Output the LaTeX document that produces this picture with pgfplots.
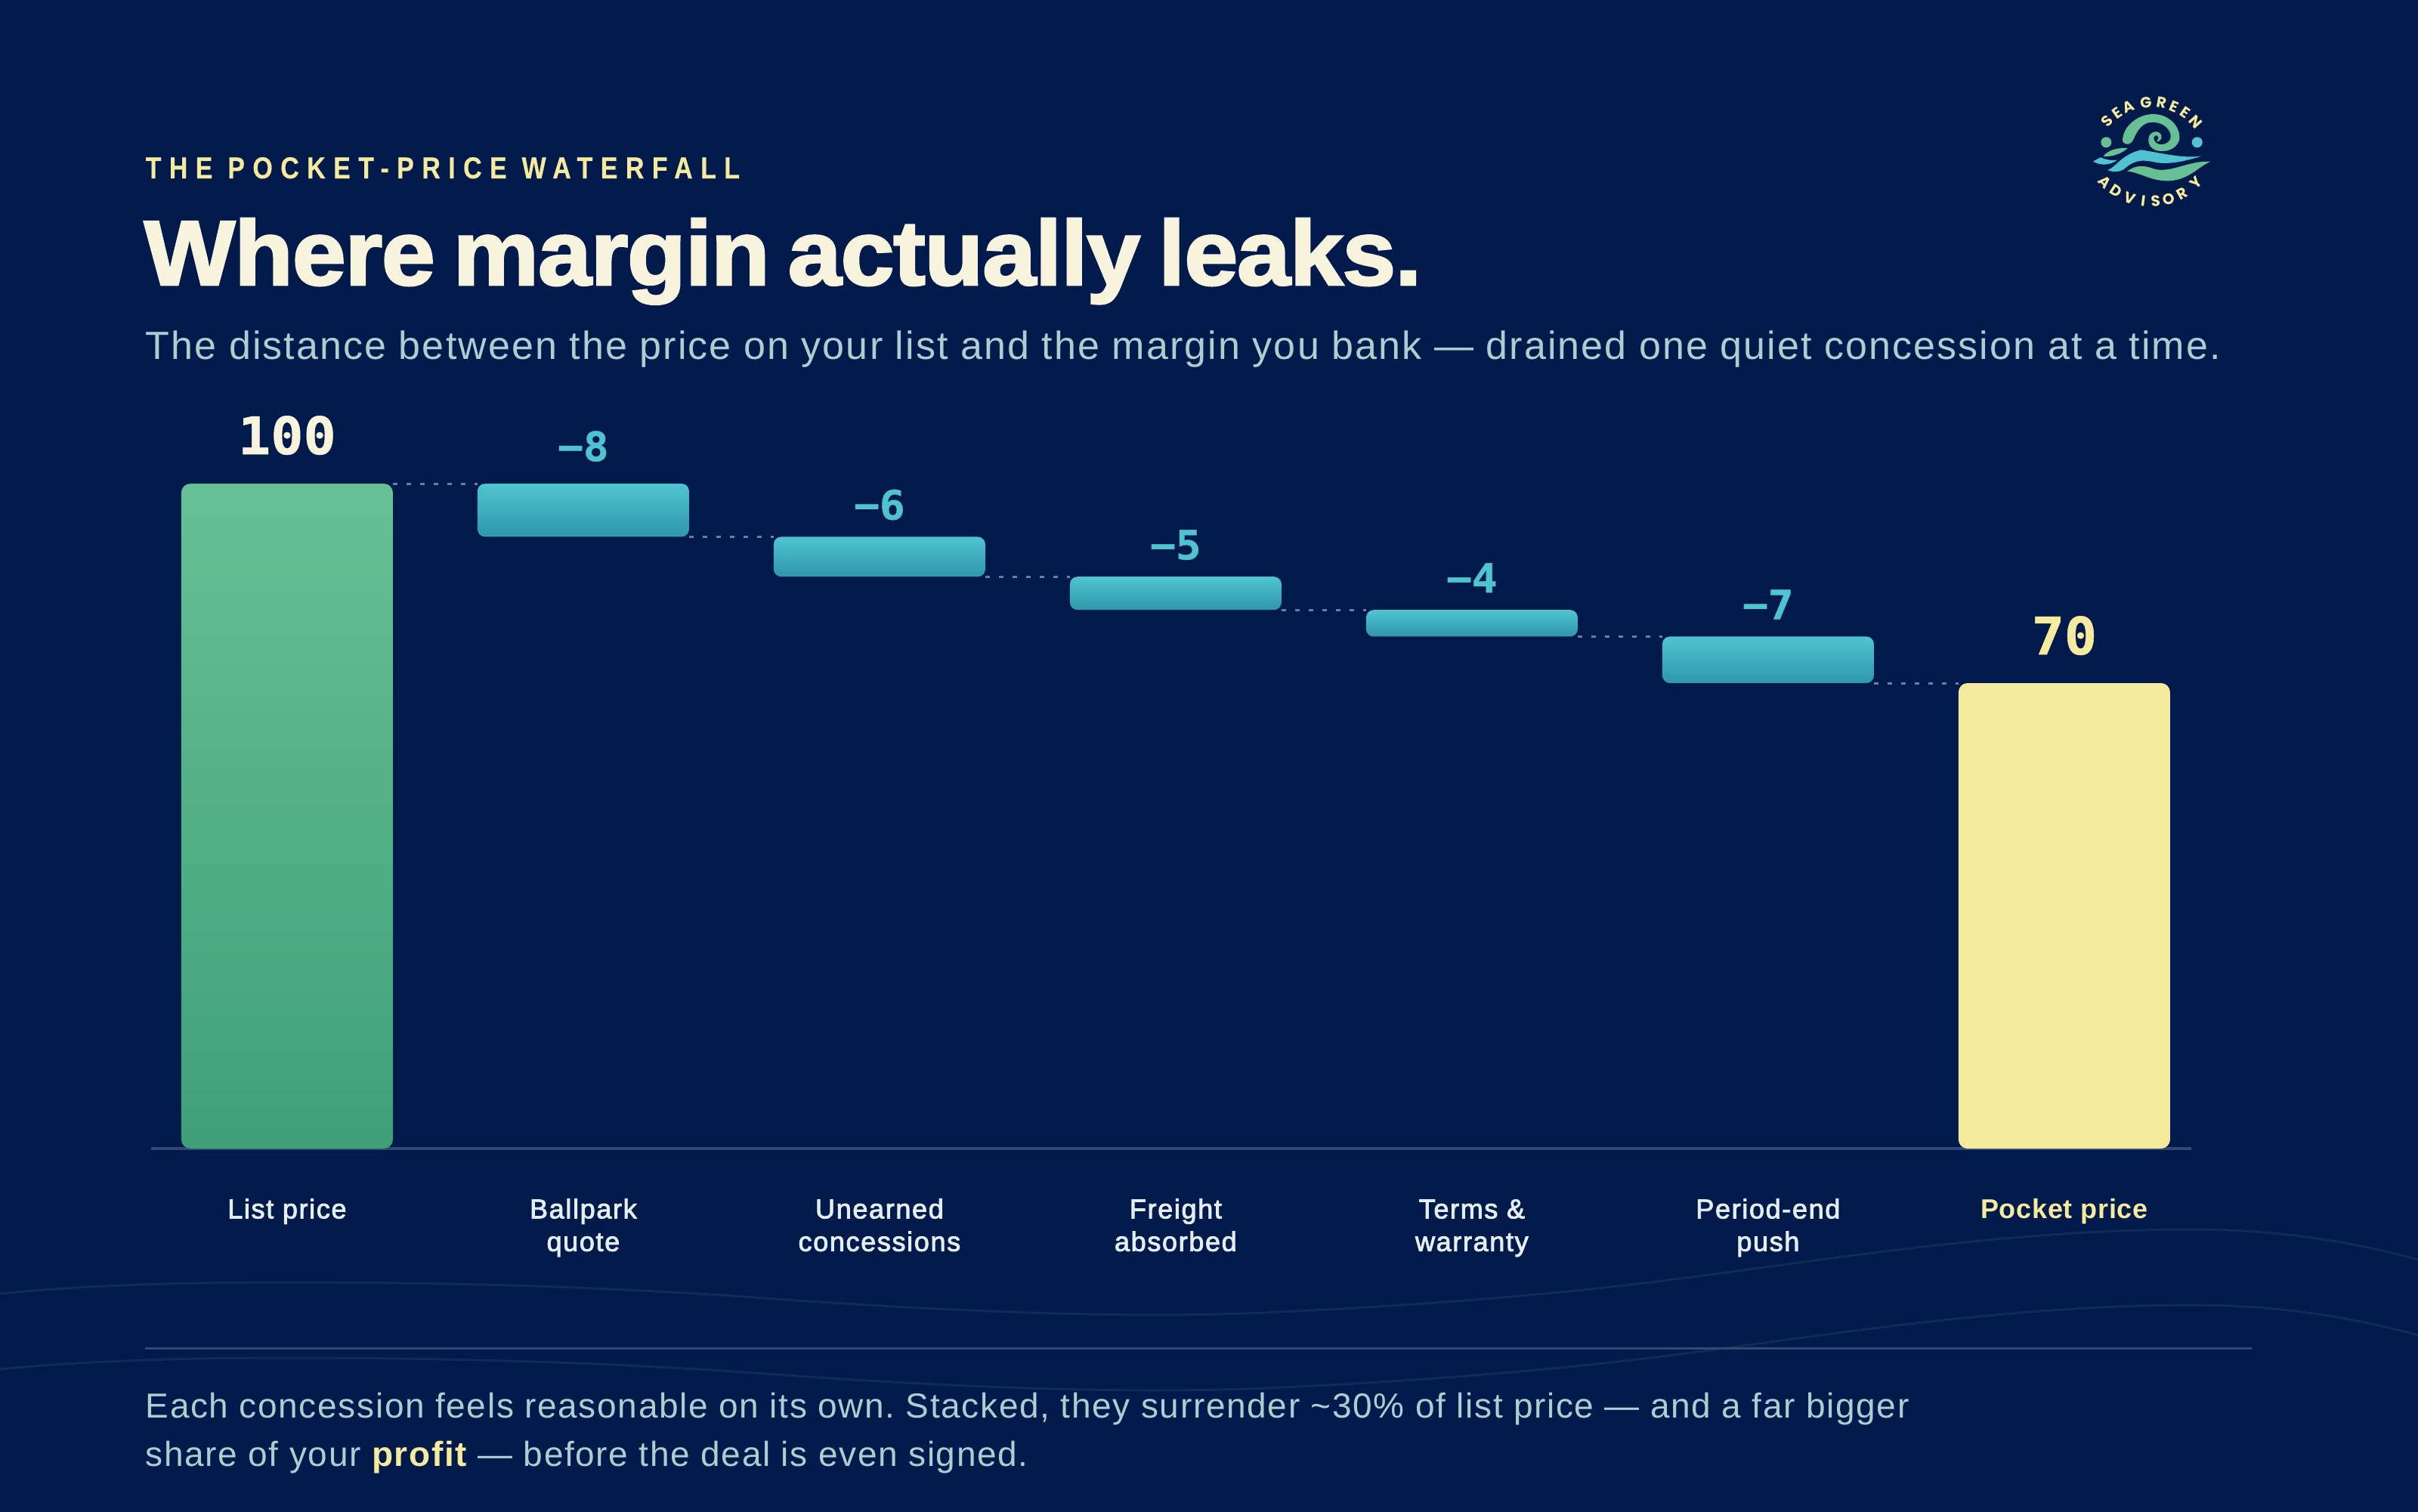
\documentclass[border=0pt]{standalone}
\usepackage{fontspec}
\usepackage{pgfplots}
\pgfplotsset{compat=1.18}
\usetikzlibrary{calc}
\setmainfont{Liberation Sans}
\newfontfamily\bodyf[LetterSpace=4.05]{Liberation Sans}
\newfontfamily\footf[LetterSpace=3.6]{Liberation Sans}
\newfontfamily\titlef[BoldFeatures={FakeBold=2.2,FakeStretch=1.05,LetterSpace=-1.1,WordSpace=0.7}]{Liberation Sans}
\newfontfamily\eyebrowf[BoldFeatures={FakeBold=0.3,FakeStretch=0.85,LetterSpace=26}]{Liberation Sans}
\newfontfamily\tickf[FakeBold=2.5,LetterSpace=4.6,BoldFeatures={FakeBold=0,LetterSpace=2}]{Liberation Sans}
\newfontfamily\valf[BoldFeatures={FakeStretch=1.05,FakeBold=0.8}]{DejaVu Sans Mono}
\newfontfamily\logof{Poppins}
\frenchspacing
\definecolor{bg}{HTML}{001A4B}
\definecolor{cream}{HTML}{F8F3DC}
\definecolor{sand}{HTML}{F5EA9D}
\definecolor{mist}{HTML}{AFCDD0}
\definecolor{tickc}{HTML}{E4EEF0}
\definecolor{rule}{HTML}{2F4B74}
\definecolor{wave}{HTML}{0C2D54}
\definecolor{dotc}{HTML}{6A7F9F}
\definecolor{greenT}{HTML}{66C094}
\definecolor{greenB}{HTML}{3FA078}
\definecolor{blueT}{HTML}{4FC4D0}
\definecolor{blueB}{HTML}{2F97AA}
% 1 reference pixel = 0.3pt
\pgfplotsset{wf/.style={
  scale only axis, width=810pt, height=264pt,
  at={(60pt,-456pt)}, anchor=south west,
  xmin=-0.459, xmax=6.429, ymin=0, ymax=100,
  clip=false, ybar, bar width=84pt, bar shift=0pt,
  axis y line=none,
}}
% one floating bar: x, level it falls to, size of the drop
\newcommand{\dropbar}[3]{%
\begin{axis}[wf, stack plots=y, axis x line=none]
\addplot[forget plot,draw=none,fill=none] coordinates {(#1,#2)};
\addplot[forget plot,draw=none,top color=blueT,bottom color=blueB,rounded corners=3pt] coordinates {(#1,#3)};
\end{axis}}
\newcommand{\conn}[2]{\addplot[forget plot,dotc,line width=0.9pt,dash pattern=on 1.8pt off 3.6pt,sharp plot] coordinates {(#1+0.357,#2) (#1+0.643,#2)};}
\begin{document}
\begin{tikzpicture}
\useasboundingbox (0,0) rectangle (960pt,-600pt);
\fill[bg] (-2pt,2pt) rectangle (962pt,-602pt);
\begin{scope}[x=0.3pt,y=-0.3pt]
\clip (0,0) rectangle (3200,2000);
\foreach \d in {0,100}{
\draw[wave,line width=0.9pt,yshift=-\d*0.3pt] (0,1712) .. controls (120,1700) and (250,1697) .. (383,1697)
  .. controls (600,1697) and (800,1703) .. (1000,1717)
  .. controls (1200,1732) and (1450,1745) .. (1650,1738)
  .. controls (1850,1730) and (2050,1714) .. (2200,1695)
  .. controls (2400,1670) and (2650,1627) .. (2900,1627)
  .. controls (3020,1627) and (3120,1645) .. (3200,1667);
}
\draw[rule,line width=0.9pt] (192,1784) -- (2980,1784);
\node[anchor=base west,inner sep=0,text=sand] at (192,236) {\eyebrowf\bfseries\fontsize{12}{14}\selectfont THE POCKET-PRICE WATERFALL};
\node[anchor=base west,inner sep=0,text=cream] at (190,377) {\titlef\bfseries\fontsize{36.5}{40}\selectfont Where margin actually leaks.};
\node[anchor=base west,inner sep=0,text=mist] at (192,475) {\bodyf\fontsize{15.6}{18}\selectfont The distance between the price on your list and the margin you bank — drained one quiet concession at a time.};
\node[anchor=base west,inner sep=0,text=mist] at (192,1876) {\footf\fontsize{13.8}{16}\selectfont Each concession feels reasonable on its own. Stacked, they surrender \textasciitilde30\% of list price — and a far bigger};
\node[anchor=base west,inner sep=0,text=mist] at (192,1940) {\footf\fontsize{13.8}{16}\selectfont share of your \textcolor{sand}{\bfseries profit} — before the deal is even signed.};
% logo, in 3x crop coordinates
\begin{scope}[shift={(2700,90)},x=0.1pt,y=-0.1pt]
\fill[greenT] (327,285) .. controls (330,225) and (395,183) .. (447,183) .. controls (515,183) and (555,235) .. (553,278)
  .. controls (550,312) and (515,332) .. (480,330) .. controls (445,330) and (426,305) .. (430,280)
  .. controls (433,255) and (460,245) .. (475,258) .. controls (488,270) and (482,292) .. (462,292)
  .. controls (468,282) and (475,272) .. (462,268) .. controls (450,265) and (445,285) .. (460,297)
  .. controls (480,312) and (515,300) .. (518,275) .. controls (520,245) and (490,215) .. (445,215)
  .. controls (410,215) and (385,245) .. (372,280) .. controls (365,298) and (352,303) .. (342,302)
  .. controls (333,300) and (327,295) .. (327,285) -- cycle;
\fill[greenT] (262,295) circle (21);
\fill[blueT] (623,295) circle (21);
\fill[blueT] (268,405) .. controls (300,395) and (320,345) .. (400,325) .. controls (470,335) and (560,360) .. (640,350)
  .. controls (590,365) and (520,385) .. (460,375) .. controls (400,360) and (370,370) .. (340,395)
  .. controls (325,410) and (295,418) .. (268,405) -- cycle;
\fill[blueT] (210,370) .. controls (225,365) and (235,355) .. (240,355) .. controls (260,365) and (285,368) .. (305,365)
  .. controls (285,385) and (235,390) .. (210,370) -- cycle;
\fill[greenT] (250,350) .. controls (270,325) and (310,315) .. (347,318) .. controls (330,335) and (290,355) .. (250,350) -- cycle;
\fill[greenT] (345,410) .. controls (380,385) and (410,385) .. (450,400) .. controls (520,420) and (590,365) .. (675,372)
  .. controls (630,390) and (590,445) .. (510,448) .. controls (440,450) and (400,415) .. (345,410) -- cycle;
\foreach \a/\c in {137/S,125/E,112/A,95/G,80/R,67/E,55/E,42/N}{
  \node[text=sand,inner sep=0,rotate=\a-90] at ($(440,372)+({237*cos(\a)},{-237*sin(\a)})$) {\logof\bfseries\fontsize{6}{6}\selectfont \c};
}
\foreach \a/\c in {224/A,237/D,251/V,263/I,274/S,286/O,299/R,315/Y}{
  \node[text=sand,inner sep=0,rotate=\a+90] at ($(440,276)+({254*cos(\a)},{-254*sin(\a)})$) {\logof\bfseries\fontsize{6}{6}\selectfont \c};
}
\end{scope}
\end{scope}
\begin{axis}[wf,
  axis x line=bottom, axis line style={rule,line width=1.2pt,-},
  xtick={0,...,6}, major tick length=0pt,
  xticklabels={\strut List price,\strut Ballpark\\quote,\strut Unearned\\concessions,\strut Freight\\absorbed,\strut Terms \&\\warranty,\strut Period-end\\push,\strut\textcolor{sand}{\bfseries Pocket price}},
  xticklabel style={align=center,text=tickc,font=\tickf\fontsize{10.8}{13}\selectfont,inner sep=0pt,yshift=-18.4pt},
]
\addplot[forget plot,draw=none,top color=greenT,bottom color=greenB,rounded corners=3.6pt] coordinates {(0,100)};
\addplot[forget plot,draw=none,fill=sand,rounded corners=3.6pt] coordinates {(6,70)};
\conn{0}{100}
\conn{1}{92}
\conn{2}{86}
\conn{3}{81}
\conn{4}{77}
\conn{5}{70}
\node[anchor=base,text=cream,inner sep=0,yshift=11.7pt] at (axis cs:0,100) {\valf\bfseries\fontsize{20.5}{22}\selectfont 100};
\node[anchor=base,text=sand,inner sep=0,yshift=11.4pt] at (axis cs:6,70) {\valf\bfseries\fontsize{20.5}{22}\selectfont 70};
\node[anchor=base,text=blueT,inner sep=0,yshift=9pt] at (axis cs:1,100) {\valf\bfseries\fontsize{16}{18}\selectfont −8};
\node[anchor=base,text=blueT,inner sep=0,yshift=6.9pt] at (axis cs:2,92) {\valf\bfseries\fontsize{16}{18}\selectfont −6};
\node[anchor=base,text=blueT,inner sep=0,yshift=6.9pt] at (axis cs:3,86) {\valf\bfseries\fontsize{16}{18}\selectfont −5};
\node[anchor=base,text=blueT,inner sep=0,yshift=6.9pt] at (axis cs:4,81) {\valf\bfseries\fontsize{16}{18}\selectfont −4};
\node[anchor=base,text=blueT,inner sep=0,yshift=6.9pt] at (axis cs:5,77) {\valf\bfseries\fontsize{16}{18}\selectfont −7};
\end{axis}
\dropbar{1}{92}{8}
\dropbar{2}{86}{6}
\dropbar{3}{81}{5}
\dropbar{4}{77}{4}
\dropbar{5}{70}{7}
\end{tikzpicture}
\end{document}
